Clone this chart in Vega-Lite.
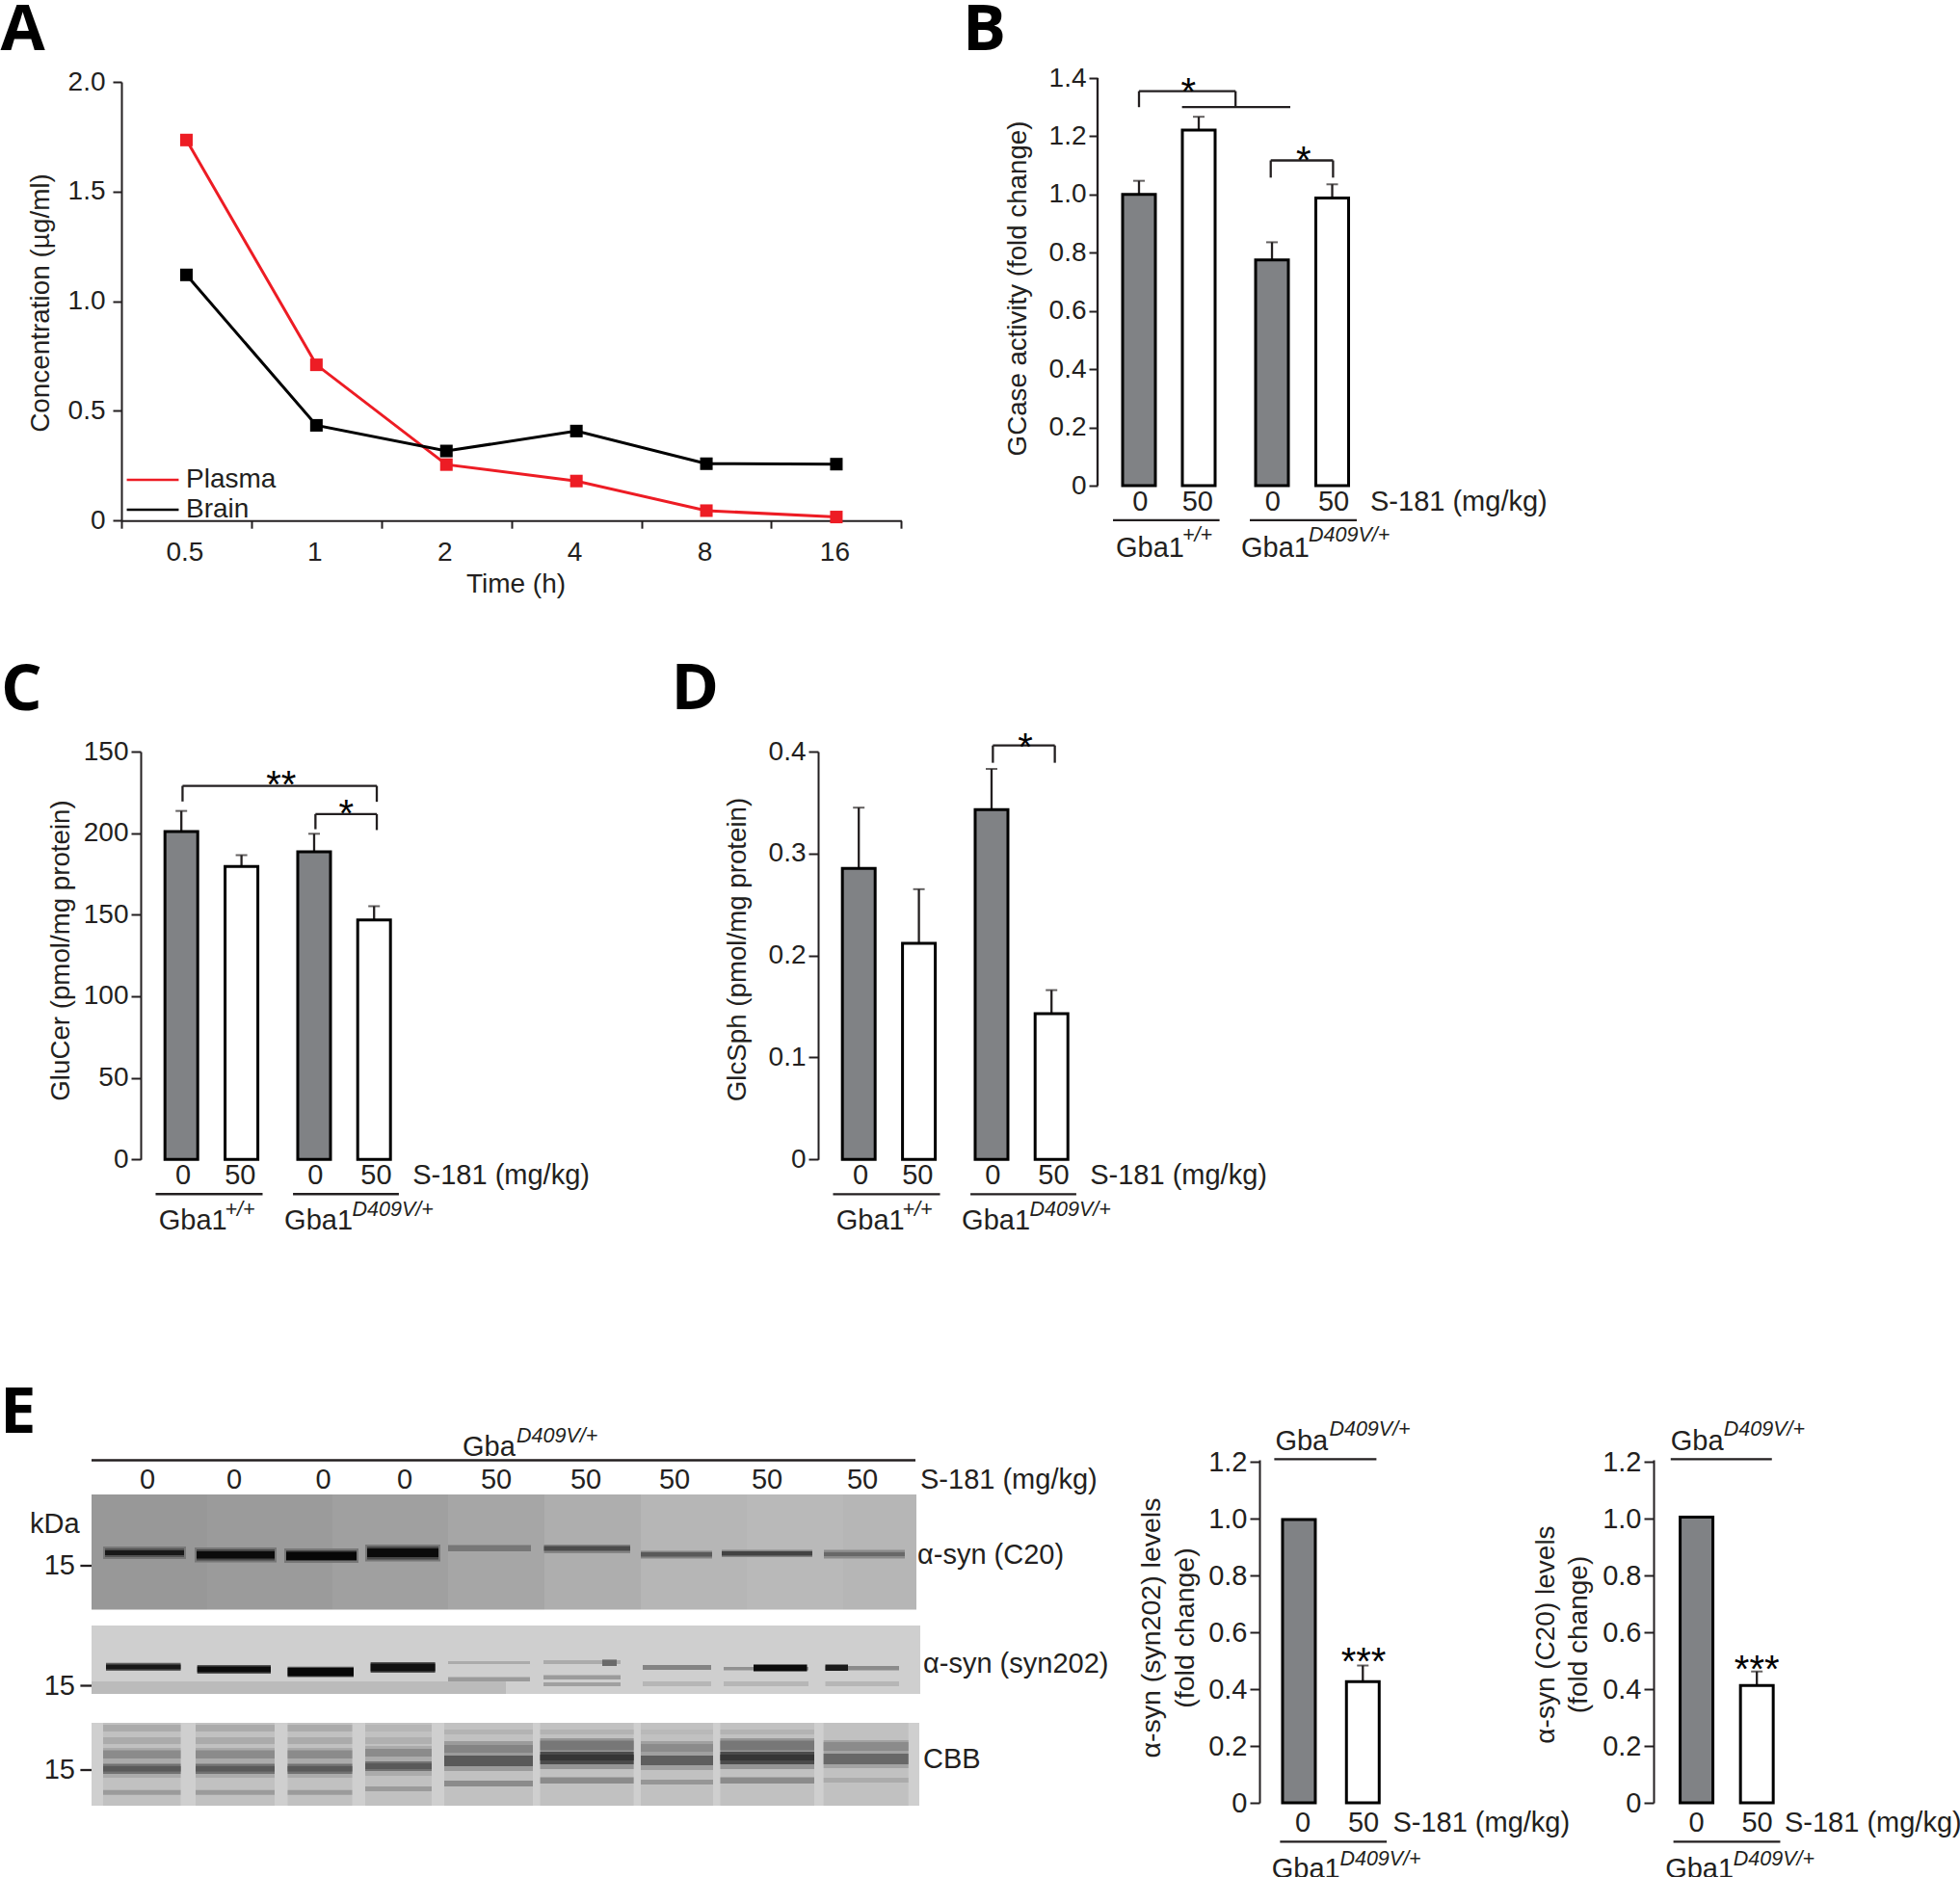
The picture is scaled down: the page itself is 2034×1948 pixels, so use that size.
{"$schema":"https://vega.github.io/schema/vega-lite/v6.json","padding":{"top":-3,"left":0,"right":4,"bottom":5},"background":"#ffffff","bounds":"flush","spacing":0,"config":{"view":{"stroke":null},"axis":{"grid":false,"labelFont":"Liberation Sans","titleFont":"Liberation Sans","labelFontSize":28,"titleFontSize":27.7,"titleFontWeight":"normal","labelColor":"#231f20","titleColor":"#231f20","domainColor":"#231f20","tickColor":"#231f20","domainWidth":2,"tickWidth":2,"labelPadding":3,"tickSize":9,"labelOverlap":false,"labelFlush":false},"text":{"font":"Liberation Sans","fontSize":29,"fill":"#231f20"},"title":{"font":"Open Sans","fontWeight":"bold","fontSize":67,"color":"#000000","anchor":"start","frame":"group","align":"left","baseline":"middle","offset":0},"rule":{"stroke":"#231f20","strokeWidth":2.3}},
"vconcat":[
{"hconcat":[
{"width":30.6,"height":1,"data":{"values":[{"a":1}]},"mark":{"type":"point","opacity":0},"encoding":{}},
{"vconcat":[
{"width":10,"height":3.7,"data":{"values":[{"a":1}]},"mark":{"type":"point","opacity":0},"encoding":{}},
{"width":809.4,"height":455.2,"title":{"text":"A","dx":-125.6,"dy":-1.2},
"data":{"values":[{"time":"0.5","series":"Plasma","concentration":1.735},{"time":"1","series":"Plasma","concentration":0.71},{"time":"2","series":"Plasma","concentration":0.255},{"time":"4","series":"Plasma","concentration":0.18},{"time":"8","series":"Plasma","concentration":0.045},{"time":"16","series":"Plasma","concentration":0.016},{"time":"0.5","series":"Brain","concentration":1.12},{"time":"1","series":"Brain","concentration":0.434},{"time":"2","series":"Brain","concentration":0.317},{"time":"4","series":"Brain","concentration":0.408},{"time":"8","series":"Brain","concentration":0.259},{"time":"16","series":"Brain","concentration":0.257}]},
"encoding":{"x":{"field":"time","type":"ordinal","sort":null,"scale":{"paddingInner":0,"paddingOuter":0},"axis":{"title":"Time (h)","labelAngle":0,"tickBand":"extent","labelPadding":11,"labelOffset":-2,"titlePadding":5.5,"tickSize":8,"titleFontSize":28,"titleX":409}},"y":{"field":"concentration","type":"quantitative","scale":{"domain":[0,2],"nice":false},"axis":{"title":"Concentration (µg/ml)","values":[0,0.5,1,1.5,2],"labelExpr":"datum.value==0?'0':format(datum.value,'.1f')","titleX":-69.5,"titleY":229,"titleFontSize":27.9,"labelPadding":8}},"color":{"field":"series","type":"nominal","scale":{"domain":["Plasma","Brain"],"range":["#ed1c24","#000000"]}}},
"layer":[{"mark":{"type":"line","strokeWidth":3},"encoding":{"color":{"field":"series","type":"nominal","legend":{"title":null,"orient":"none","legendX":35,"legendY":404,"symbolType":"stroke","symbolSize":2900,"symbolStrokeWidth":2.5,"labelFont":"Liberation Sans","labelFontSize":28,"labelColor":"#231f20","labelOffset":6,"rowPadding":3,"padding":0,"clipHeight":26}}}},{"mark":{"type":"square","size":170,"opacity":1},"encoding":{"color":{"field":"series","type":"nominal","legend":null}}}]}
],"spacing":0,"bounds":"flush"},
{"width":1012.4,"height":1,"data":{"values":[{"a":1}]},"mark":{"type":"point","opacity":0},"encoding":{}},
{"width":300,"height":461.5,"title":{"text":"B","dx":-140,"dy":2.8},
"encoding":{"x":{"field":"x","type":"quantitative","axis":null,"scale":{"domain":[-0.6935,4.145],"nice":false,"zero":false,"padding":0}},"y":{"field":"y","type":"quantitative","stack":null,"scale":{"domain":[-0.1274,1.4],"nice":false,"zero":false},"axis":{"title":"GCase activity (fold change)","domain":false,"values":[0,0.2,0.4,0.6,0.8,1,1.2,1.4],"labelExpr":"datum.value==0?'0':format(datum.value,'.1f')","titleX":-69,"titleY":218}}},
"layer":[
{"data":{"values":[{"x":0,"y":1.0,"upper":1.047,"dose":"0","genotype":"Gba1+/+"},{"x":1,"y":1.221,"upper":1.267,"dose":"50","genotype":"Gba1+/+"},{"x":2.226,"y":0.775,"upper":0.836,"dose":"0","genotype":"Gba1D409V/+"},{"x":3.234,"y":0.988,"upper":1.035,"dose":"50","genotype":"Gba1D409V/+"}]},"layer":[{"mark":{"type":"rule"},"encoding":{"y2":{"field":"upper"}}},{"mark":{"type":"tick","orient":"horizontal","size":12,"thickness":2,"color":"#231f20"},"encoding":{"y":{"field":"upper","type":"quantitative"}}},{"mark":{"type":"bar","orient":"vertical","size":34,"stroke":"#000000","strokeWidth":3},"encoding":{"fill":{"field":"dose","type":"nominal","legend":null,"scale":{"domain":["0","50"],"range":["#808285","#ffffff"]}}}}]},
{"data":{"values":[{"x":-0.6935,"y":0,"y2":1.4},{"x":0,"y":1.3,"y2":1.355},{"x":1.616,"y":1.3,"y2":1.355},{"x":2.205,"y":1.058,"y2":1.117},{"x":3.248,"y":1.058,"y2":1.117}]},"mark":{"type":"rule"},"encoding":{"y2":{"field":"y2"}}},
{"data":{"values":[{"x":0,"x2":1.616,"y":1.355},{"x":0.72,"x2":2.532,"y":1.3},{"x":2.205,"x2":3.248,"y":1.117},{"x":-0.435,"x2":1.348,"y":-0.119},{"x":1.855,"x2":3.645,"y":-0.119}]},"mark":{"type":"rule"},"encoding":{"x2":{"field":"x2"}}},
{"data":{"values":[{"label":"0","x":0.02,"y":-0.056},{"label":"50","x":0.98,"y":-0.056},{"label":"0","x":2.24,"y":-0.056},{"label":"50","x":3.258,"y":-0.056}]},"mark":{"type":"text","align":"center","baseline":"middle"},"encoding":{"text":{"field":"label"}}},
{"data":{"values":[{"label":"S-181 (mg/kg)","x":3.871,"y":-0.056},{"label":"Gba1","x":-0.387,"y":-0.215},{"label":"Gba1","x":1.71,"y":-0.215}]},"mark":{"type":"text","align":"left","baseline":"middle"},"encoding":{"text":{"field":"label"}}},
{"data":{"values":[{"label":"+/+","x":0.726,"y":-0.172},{"label":"D409V/+","x":2.839,"y":-0.172}]},"mark":{"type":"text","align":"left","baseline":"middle","fontSize":21.5,"fontStyle":"italic"},"encoding":{"text":{"field":"label"}}},
{"data":{"values":[{"label":"*","x":0.826,"y":1.385},{"label":"*","x":2.753,"y":1.149}]},"mark":{"type":"text","align":"center","baseline":"middle","fontSize":40,"dy":11,"fill":"#000000"},"encoding":{"text":{"field":"label"}}}
]}
],"spacing":0,"bounds":"flush"},
{"width":10,"height":698.1,"data":{"values":[{"a":1}]},"mark":{"type":"point","opacity":0},"encoding":{}},
{"hconcat":[
{"width":50.5,"height":1,"data":{"values":[{"a":1}]},"mark":{"type":"point","opacity":0},"encoding":{}},
{"width":300,"height":423.2,"title":{"text":"C","dx":-145,"dy":-11.4},
"encoding":{"x":{"field":"x","type":"quantitative","axis":null,"scale":{"domain":[-0.676,4.131],"nice":false,"zero":false,"padding":0}},"y":{"field":"y","type":"quantitative","stack":null,"scale":{"domain":[0,250],"nice":false,"zero":false},"axis":{"title":"GluCer (pmol/mg protein)","values":[0,50,100,150,200,250],"labelExpr":"datum.value==250?'150':datum.label","titleX":-69,"titleY":206,"tickSize":10}}},
"layer":[
{"data":{"values":[{"x":0,"y":201,"upper":213.6,"dose":"0","genotype":"Gba1+/+"},{"x":1,"y":179.5,"upper":186.5,"dose":"50","genotype":"Gba1+/+"},{"x":2.208,"y":188.6,"upper":199.6,"dose":"0","genotype":"Gba1D409V/+"},{"x":3.205,"y":146.8,"upper":155.2,"dose":"50","genotype":"Gba1D409V/+"}]},"layer":[{"mark":{"type":"rule"},"encoding":{"y2":{"field":"upper"}}},{"mark":{"type":"tick","orient":"horizontal","size":12,"thickness":2,"color":"#231f20"},"encoding":{"y":{"field":"upper","type":"quantitative"}}},{"mark":{"type":"bar","orient":"vertical","size":34,"stroke":"#000000","strokeWidth":3},"encoding":{"fill":{"field":"dose","type":"nominal","legend":null,"scale":{"domain":["0","50"],"range":["#808285","#ffffff"]}}}}]},
{"data":{"values":[{"x":0.02,"y":219.4,"y2":229},{"x":3.25,"y":219.2,"y2":229},{"x":2.23,"y":202.4,"y2":211.7},{"x":3.25,"y":201.9,"y2":211.7}]},"mark":{"type":"rule"},"encoding":{"y2":{"field":"y2"}}},
{"data":{"values":[{"x":0.02,"x2":3.25,"y":229},{"x":2.23,"x2":3.25,"y":211.7},{"x":-0.428,"x2":1.351,"y":-21.3},{"x":1.857,"x2":3.617,"y":-21.3}]},"mark":{"type":"rule"},"encoding":{"x2":{"field":"x2"}}},
{"data":{"values":[{"label":"0","x":0.03,"y":-10},{"label":"50","x":0.98,"y":-10},{"label":"0","x":2.23,"y":-10},{"label":"50","x":3.24,"y":-10}]},"mark":{"type":"text","align":"center","baseline":"middle"},"encoding":{"text":{"field":"label"}}},
{"data":{"values":[{"label":"S-181 (mg/kg)","x":3.846,"y":-10},{"label":"Gba1","x":-0.375,"y":-37.5},{"label":"Gba1","x":1.713,"y":-37.5}]},"mark":{"type":"text","align":"left","baseline":"middle"},"encoding":{"text":{"field":"label"}}},
{"data":{"values":[{"label":"+/+","x":0.726,"y":-31},{"label":"D409V/+","x":2.841,"y":-31}]},"mark":{"type":"text","align":"left","baseline":"middle","fontSize":21.5,"fontStyle":"italic"},"encoding":{"text":{"field":"label"}}},
{"data":{"values":[{"label":"**","x":1.66,"y":235},{"label":"*","x":2.74,"y":217.6}]},"mark":{"type":"text","align":"center","baseline":"middle","fontSize":40,"dy":11,"fill":"#000000"},"encoding":{"text":{"field":"label"}}}
]},
{"width":403,"height":1,"data":{"values":[{"a":1}]},"mark":{"type":"point","opacity":0},"encoding":{}},
{"width":300,"height":423.2,"title":{"text":"D","dx":-152.5,"dy":-2.4},
"encoding":{"x":{"field":"x","type":"quantitative","axis":null,"scale":{"domain":[-0.676,4.131],"nice":false,"zero":false,"padding":0}},"y":{"field":"y","type":"quantitative","stack":null,"scale":{"domain":[0,0.4],"nice":false,"zero":false},"axis":{"title":"GlcSph (pmol/mg protein)","values":[0,0.1,0.2,0.3,0.4],"labelExpr":"datum.value==0?'0':format(datum.value,'.1f')","titleX":-70,"titleY":205,"tickSize":10}}},
"layer":[
{"data":{"values":[{"x":0,"y":0.2855,"upper":0.345,"dose":"0","genotype":"Gba1+/+"},{"x":1,"y":0.212,"upper":0.265,"dose":"50","genotype":"Gba1+/+"},{"x":2.208,"y":0.343,"upper":0.383,"dose":"0","genotype":"Gba1D409V/+"},{"x":3.205,"y":0.143,"upper":0.166,"dose":"50","genotype":"Gba1D409V/+"}]},"layer":[{"mark":{"type":"rule"},"encoding":{"y2":{"field":"upper"}}},{"mark":{"type":"tick","orient":"horizontal","size":12,"thickness":2,"color":"#231f20"},"encoding":{"y":{"field":"upper","type":"quantitative"}}},{"mark":{"type":"bar","orient":"vertical","size":34,"stroke":"#000000","strokeWidth":3},"encoding":{"fill":{"field":"dose","type":"nominal","legend":null,"scale":{"domain":["0","50"],"range":["#808285","#ffffff"]}}}}]},
{"data":{"values":[{"x":2.23,"y":0.389,"y2":0.406},{"x":3.26,"y":0.389,"y2":0.406}]},"mark":{"type":"rule"},"encoding":{"y2":{"field":"y2"}}},
{"data":{"values":[{"x":2.23,"x2":3.26,"y":0.406},{"x":-0.428,"x2":1.351,"y":-0.0341},{"x":1.857,"x2":3.617,"y":-0.0341}]},"mark":{"type":"rule"},"encoding":{"x2":{"field":"x2"}}},
{"data":{"values":[{"label":"0","x":0.03,"y":-0.016},{"label":"50","x":0.98,"y":-0.016},{"label":"0","x":2.23,"y":-0.016},{"label":"50","x":3.24,"y":-0.016}]},"mark":{"type":"text","align":"center","baseline":"middle"},"encoding":{"text":{"field":"label"}}},
{"data":{"values":[{"label":"S-181 (mg/kg)","x":3.846,"y":-0.016},{"label":"Gba1","x":-0.375,"y":-0.06},{"label":"Gba1","x":1.713,"y":-0.06}]},"mark":{"type":"text","align":"left","baseline":"middle"},"encoding":{"text":{"field":"label"}}},
{"data":{"values":[{"label":"+/+","x":0.726,"y":-0.0496},{"label":"D409V/+","x":2.841,"y":-0.0496}]},"mark":{"type":"text","align":"left","baseline":"middle","fontSize":21.5,"fontStyle":"italic"},"encoding":{"text":{"field":"label"}}},
{"data":{"values":[{"label":"*","x":2.77,"y":0.4135}]},"mark":{"type":"text","align":"center","baseline":"middle","fontSize":40,"dy":11,"fill":"#000000"},"encoding":{"text":{"field":"label"}}}
]}
],"spacing":0,"bounds":"flush"},
{"width":10,"height":734.9,"data":{"values":[{"a":1}]},"mark":{"type":"point","opacity":0},"encoding":{}},
{"hconcat":[
{"width":860,"height":345.5,"title":{"text":"E","dx":-95,"dy":25},
"encoding":{"x":{"field":"x","type":"quantitative","axis":null,"scale":{"domain":[0,86],"nice":false,"zero":false}},"y":{"field":"y","type":"quantitative","axis":null,"scale":{"domain":[34.55,0],"nice":false,"zero":false}}},
"layer":[
{"data":{"values":[
{"x":0,"x2":12,"y":3.6,"y2":15.56,"density":0.37},{"x":12,"x2":25,"y":3.6,"y2":15.56,"density":0.36},{"x":25,"x2":37,"y":3.6,"y2":15.56,"density":0.34},{"x":37,"x2":47,"y":3.6,"y2":15.56,"density":0.32},{"x":47,"x2":57,"y":3.6,"y2":15.56,"density":0.29},{"x":57,"x2":68,"y":3.6,"y2":15.56,"density":0.26},{"x":68,"x2":78,"y":3.6,"y2":15.56,"density":0.25},{"x":78,"x2":85.6,"y":3.6,"y2":15.56,"density":0.26},
{"x":1.2,"x2":9.8,"y":9,"y2":10.3,"density":0.5},{"x":1.4,"x2":9.6,"y":9.2,"y2":10.1,"density":0.65},{"x":1.4,"x2":9.6,"y":9.4,"y2":9.9,"density":0.92},
{"x":10.7,"x2":19.2,"y":9.1,"y2":10.65,"density":0.5},{"x":10.9,"x2":19,"y":9.3,"y2":10.45,"density":0.7},{"x":10.9,"x2":19,"y":9.5,"y2":10.25,"density":0.97},
{"x":20,"x2":27.7,"y":9.2,"y2":10.7,"density":0.5},{"x":20.2,"x2":27.5,"y":9.4,"y2":10.5,"density":0.7},{"x":20.2,"x2":27.5,"y":9.55,"y2":10.4,"density":0.98},
{"x":28.4,"x2":36.2,"y":8.8,"y2":10.55,"density":0.5},{"x":28.6,"x2":36,"y":9.0,"y2":10.35,"density":0.7},{"x":28.6,"x2":36,"y":9.2,"y2":10.1,"density":0.97},
{"x":37,"x2":45.6,"y":8.86,"y2":9.5,"density":0.5},
{"x":46.95,"x2":55.9,"y":8.8,"y2":9.7,"density":0.45},{"x":46.95,"x2":55.9,"y":8.95,"y2":9.45,"density":0.68},
{"x":57,"x2":64.4,"y":9.46,"y2":10.25,"density":0.45},{"x":57,"x2":64.4,"y":9.6,"y2":10.05,"density":0.62},
{"x":65.4,"x2":74.8,"y":9.36,"y2":10.1,"density":0.45},{"x":65.4,"x2":74.8,"y":9.5,"y2":9.95,"density":0.72},
{"x":76,"x2":84.4,"y":9.36,"y2":10.25,"density":0.42},{"x":76,"x2":84.4,"y":9.6,"y2":10,"density":0.56},
{"x":0,"x2":86,"y":17.2,"y2":24.3,"density":0.17},{"x":0,"x2":43,"y":23,"y2":24.3,"density":0.24},
{"x":1.5,"x2":9.25,"y":21.07,"y2":21.9,"density":0.6},{"x":1.5,"x2":9.25,"y":21.25,"y2":21.75,"density":0.92},
{"x":10.97,"x2":18.6,"y":21.3,"y2":22.2,"density":0.65},{"x":10.97,"x2":18.6,"y":21.45,"y2":22.05,"density":0.97},
{"x":20.35,"x2":27.2,"y":21.47,"y2":22.56,"density":0.65},{"x":20.35,"x2":27.2,"y":21.6,"y2":22.45,"density":0.98},
{"x":28.96,"x2":35.66,"y":21,"y2":22.1,"density":0.65},{"x":28.96,"x2":35.66,"y":21.15,"y2":21.95,"density":0.95},
{"x":37,"x2":45.5,"y":20.9,"y2":21.2,"density":0.3},{"x":37,"x2":45.5,"y":22.55,"y2":23,"density":0.36},
{"x":46.9,"x2":54.9,"y":20.8,"y2":21.2,"density":0.3},{"x":46.9,"x2":54.9,"y":22.35,"y2":22.8,"density":0.36},{"x":46.9,"x2":54.9,"y":23.1,"y2":23.5,"density":0.34},{"x":53,"x2":54.5,"y":20.74,"y2":21.4,"density":0.55},
{"x":57.2,"x2":64.3,"y":21.3,"y2":21.8,"density":0.45},{"x":57.2,"x2":64.3,"y":23,"y2":23.5,"density":0.26},
{"x":65.6,"x2":74.4,"y":21.5,"y2":21.85,"density":0.4},{"x":68.7,"x2":74.25,"y":21.25,"y2":21.95,"density":0.97},{"x":65.6,"x2":74.4,"y":23,"y2":23.5,"density":0.26},
{"x":76.15,"x2":83.8,"y":21.4,"y2":21.85,"density":0.42},{"x":76.15,"x2":78.5,"y":21.25,"y2":21.9,"density":0.9},{"x":76.15,"x2":83.8,"y":23,"y2":23.5,"density":0.26},
{"x":0,"x2":85.9,"y":27.3,"y2":35.9,"density":0.17},
{"x":1.2,"x2":9.25,"y":27.3,"y2":35.9,"density":0.22},{"x":10.8,"x2":19,"y":27.3,"y2":35.9,"density":0.22},{"x":20.35,"x2":27.05,"y":27.3,"y2":35.9,"density":0.22},{"x":28.4,"x2":35.3,"y":27.3,"y2":35.9,"density":0.22},{"x":36.6,"x2":45.8,"y":27.3,"y2":35.9,"density":0.22},{"x":46.56,"x2":56.26,"y":27.3,"y2":35.9,"density":0.22},{"x":57,"x2":64.5,"y":27.3,"y2":35.9,"density":0.22},{"x":65.25,"x2":75,"y":27.3,"y2":35.9,"density":0.22},{"x":75.97,"x2":84.77,"y":27.3,"y2":35.9,"density":0.22},
{"x":1.2,"x2":9.25,"y":29.9,"y2":33,"density":0.3},{"x":10.8,"x2":19,"y":29.9,"y2":33,"density":0.3},{"x":20.35,"x2":27.05,"y":29.9,"y2":33,"density":0.3},{"x":28.4,"x2":35.3,"y":29.7,"y2":32.8,"density":0.3},{"x":36.6,"x2":45.8,"y":29.2,"y2":32.3,"density":0.36},{"x":46.56,"x2":56.26,"y":28.9,"y2":32.1,"density":0.38},{"x":57,"x2":64.5,"y":29.2,"y2":32.2,"density":0.34},{"x":65.25,"x2":75,"y":28.9,"y2":32.1,"density":0.38},{"x":75.97,"x2":84.77,"y":29.1,"y2":32,"density":0.33},
{"x":1.2,"x2":9.25,"y":27.5,"y2":28.2,"density":0.3},{"x":1.2,"x2":9.25,"y":28.8,"y2":29.5,"density":0.3},{"x":1.2,"x2":9.25,"y":30.15,"y2":31,"density":0.42},{"x":1.2,"x2":9.25,"y":31.54,"y2":32.6,"density":0.52},{"x":1.2,"x2":9.25,"y":31.8,"y2":32.35,"density":0.62},{"x":1.2,"x2":9.25,"y":34.27,"y2":34.77,"density":0.36},
{"x":10.8,"x2":19,"y":27.5,"y2":28.2,"density":0.3},{"x":10.8,"x2":19,"y":28.8,"y2":29.5,"density":0.3},{"x":10.8,"x2":19,"y":30.15,"y2":31,"density":0.42},{"x":10.8,"x2":19,"y":31.54,"y2":32.6,"density":0.52},{"x":10.8,"x2":19,"y":31.8,"y2":32.35,"density":0.62},{"x":10.8,"x2":19,"y":34.27,"y2":34.77,"density":0.36},
{"x":20.35,"x2":27.05,"y":27.5,"y2":28.2,"density":0.3},{"x":20.35,"x2":27.05,"y":28.8,"y2":29.5,"density":0.3},{"x":20.35,"x2":27.05,"y":30.15,"y2":31,"density":0.42},{"x":20.35,"x2":27.05,"y":31.54,"y2":32.6,"density":0.52},{"x":20.35,"x2":27.05,"y":31.8,"y2":32.35,"density":0.62},{"x":20.35,"x2":27.05,"y":34.27,"y2":34.77,"density":0.36},
{"x":28.4,"x2":35.3,"y":27.5,"y2":28.2,"density":0.26},{"x":28.4,"x2":35.3,"y":28.8,"y2":29.5,"density":0.28},{"x":28.4,"x2":35.3,"y":30,"y2":30.8,"density":0.42},{"x":28.4,"x2":35.3,"y":31.3,"y2":32.3,"density":0.52},{"x":28.4,"x2":35.3,"y":31.5,"y2":32.1,"density":0.62},{"x":28.4,"x2":35.3,"y":33.9,"y2":34.4,"density":0.36},
{"x":36.6,"x2":45.8,"y":28,"y2":28.5,"density":0.27},{"x":36.6,"x2":45.8,"y":29.6,"y2":30.4,"density":0.45},{"x":36.6,"x2":45.8,"y":30.7,"y2":31.8,"density":0.62},{"x":36.6,"x2":45.8,"y":33.3,"y2":33.9,"density":0.42},
{"x":46.56,"x2":56.26,"y":28,"y2":28.5,"density":0.27},{"x":46.56,"x2":56.26,"y":29.16,"y2":30.15,"density":0.5},{"x":46.56,"x2":56.26,"y":30.3,"y2":31.6,"density":0.68},{"x":46.56,"x2":56.26,"y":30.6,"y2":31.2,"density":0.78},{"x":46.56,"x2":56.26,"y":32.95,"y2":33.6,"density":0.42},
{"x":57,"x2":64.5,"y":28,"y2":28.5,"density":0.25},{"x":57,"x2":64.5,"y":29.5,"y2":30.3,"density":0.42},{"x":57,"x2":64.5,"y":30.7,"y2":31.7,"density":0.6},{"x":57,"x2":64.5,"y":33.2,"y2":33.7,"density":0.38},
{"x":65.25,"x2":75,"y":28,"y2":28.5,"density":0.27},{"x":65.25,"x2":75,"y":29.16,"y2":30.15,"density":0.5},{"x":65.25,"x2":75,"y":30.3,"y2":31.6,"density":0.68},{"x":65.25,"x2":75,"y":30.6,"y2":31.2,"density":0.78},{"x":65.25,"x2":75,"y":32.95,"y2":33.6,"density":0.42},
{"x":75.97,"x2":84.77,"y":29.3,"y2":30.2,"density":0.42},{"x":75.97,"x2":84.77,"y":30.5,"y2":31.6,"density":0.56},{"x":75.97,"x2":84.77,"y":33,"y2":33.5,"density":0.3}
]},"mark":{"type":"rect"},"encoding":{"x2":{"field":"x2"},"y2":{"field":"y2"},"fill":{"field":"density","type":"quantitative","legend":null,"scale":{"domain":[0,1],"range":["#ffffff","#000000"]}}}},
{"data":{"values":[{"x":0,"x2":85.5,"y":0.05},{"x":-1.16,"x2":0,"y":11},{"x":-1.16,"x2":0,"y":23.45},{"x":-1.16,"x2":0,"y":32.2}]},"mark":{"type":"rule"},"encoding":{"x2":{"field":"x2"}}},
{"data":{"values":[{"label":"0","x":5.8,"y":2.1},{"label":"0","x":14.8,"y":2.1},{"label":"0","x":24.06,"y":2.1},{"label":"0","x":32.5,"y":2.1},{"label":"50","x":42,"y":2.1},{"label":"50","x":51.3,"y":2.1},{"label":"50","x":60.5,"y":2.1},{"label":"50","x":70.1,"y":2.1},{"label":"50","x":80,"y":2.1}]},"mark":{"type":"text","align":"center","baseline":"middle"},"encoding":{"text":{"field":"label"}}},
{"data":{"values":[{"label":"Gba","x":38.5,"y":-1.3},{"label":"S-181 (mg/kg)","x":86,"y":2.1},{"label":"kDa","x":-6.4,"y":6.7},{"label":"α-syn (C20)","x":85.7,"y":9.85},{"label":"α-syn (syn202)","x":86.3,"y":21.2},{"label":"CBB","x":86.3,"y":31.1}]},"mark":{"type":"text","align":"left","baseline":"middle"},"encoding":{"text":{"field":"label"}}},
{"data":{"values":[{"label":"15","x":-1.7,"y":11},{"label":"15","x":-1.7,"y":23.45},{"label":"15","x":-1.7,"y":32.2}]},"mark":{"type":"text","align":"right","baseline":"middle"},"encoding":{"text":{"field":"label"}}},
{"data":{"values":[{"label":"D409V/+","x":44.1,"y":-2.4}]},"mark":{"type":"text","align":"left","baseline":"middle","fontSize":21.5,"fontStyle":"italic"},"encoding":{"text":{"field":"label"}}}
]},
{"width":351.6,"height":1,"data":{"values":[{"a":1}]},"mark":{"type":"point","opacity":0},"encoding":{}},
{"width":300,"height":356,
"encoding":{"x":{"field":"x","type":"quantitative","axis":null,"scale":{"domain":[-0.618,3.907],"nice":false,"zero":false,"padding":0}},"y":{"field":"y","type":"quantitative","stack":null,"scale":{"domain":[0,1.2068],"nice":false,"zero":false},"axis":{"title":["α-syn (syn202) levels","(fold change)"],"titleFontSize":28.5,"titleLineHeight":35,"values":[0,0.2,0.4,0.6,0.8,1,1.2],"labelExpr":"datum.value==0?'0':format(datum.value,'.1f')","titleX":-98,"titleY":174,"tickSize":10,"labelFontSize":29}}},
"layer":[
{"data":{"values":[{"x":0,"y":0.997,"upper":0.997,"dose":"0","genotype":"GbaD409V/+"},{"x":1,"y":0.426,"upper":0.483,"dose":"50","genotype":"GbaD409V/+"}]},"layer":[{"transform":[{"filter":"datum.upper>datum.y"}],"mark":{"type":"rule"},"encoding":{"y2":{"field":"upper"}}},{"transform":[{"filter":"datum.upper>datum.y"}],"mark":{"type":"tick","orient":"horizontal","size":12,"thickness":2,"color":"#231f20"},"encoding":{"y":{"field":"upper","type":"quantitative"}}},{"mark":{"type":"bar","orient":"vertical","size":34,"stroke":"#000000","strokeWidth":3},"encoding":{"fill":{"field":"dose","type":"nominal","legend":null,"scale":{"domain":["0","50"],"range":["#808285","#ffffff"]}}}}]},
{"data":{"values":[{"x":-0.386,"x2":1.213,"y":1.209},{"x":-0.296,"x2":1.374,"y":-0.137}]},"mark":{"type":"rule"},"encoding":{"x2":{"field":"x2"}}},
{"data":{"values":[{"label":"0","x":0.06,"y":-0.071},{"label":"50","x":1.012,"y":-0.071}]},"mark":{"type":"text","align":"center","baseline":"middle"},"encoding":{"text":{"field":"label"}}},
{"data":{"values":[{"label":"S-181 (mg/kg)","x":1.47,"y":-0.071},{"label":"Gba1","x":-0.425,"y":-0.234},{"label":"Gba","x":-0.371,"y":1.271}]},"mark":{"type":"text","align":"left","baseline":"middle"},"encoding":{"text":{"field":"label"}}},
{"data":{"values":[{"label":"D409V/+","x":0.64,"y":-0.199},{"label":"D409V/+","x":0.474,"y":1.312}]},"mark":{"type":"text","align":"left","baseline":"middle","fontSize":21.5,"fontStyle":"italic"},"encoding":{"text":{"field":"label"}}},
{"data":{"values":[{"label":"***","x":1.012,"y":0.529}]},"mark":{"type":"text","align":"center","baseline":"middle","fontSize":40,"dy":11,"fill":"#000000"},"encoding":{"text":{"field":"label"}}}
]},
{"width":108.6,"height":1,"data":{"values":[{"a":1}]},"mark":{"type":"point","opacity":0},"encoding":{}},
{"width":300,"height":356,
"encoding":{"x":{"field":"x","type":"quantitative","axis":null,"scale":{"domain":[-0.712,4.08],"nice":false,"zero":false,"padding":0}},"y":{"field":"y","type":"quantitative","stack":null,"scale":{"domain":[0,1.2068],"nice":false,"zero":false},"axis":{"title":["α-syn (C20) levels","(fold change)"],"titleFontSize":28,"titleLineHeight":34,"values":[0,0.2,0.4,0.6,0.8,1,1.2],"labelExpr":"datum.value==0?'0':format(datum.value,'.1f')","titleX":-97.4,"titleY":181,"tickSize":10,"labelFontSize":29}}},
"layer":[
{"data":{"values":[{"x":0,"y":1.005,"upper":1.005,"dose":"0","genotype":"GbaD409V/+"},{"x":1,"y":0.413,"upper":0.462,"dose":"50","genotype":"GbaD409V/+"}]},"layer":[{"transform":[{"filter":"datum.upper>datum.y"}],"mark":{"type":"rule"},"encoding":{"y2":{"field":"upper"}}},{"transform":[{"filter":"datum.upper>datum.y"}],"mark":{"type":"tick","orient":"horizontal","size":12,"thickness":2,"color":"#231f20"},"encoding":{"y":{"field":"upper","type":"quantitative"}}},{"mark":{"type":"bar","orient":"vertical","size":34,"stroke":"#000000","strokeWidth":3},"encoding":{"fill":{"field":"dose","type":"nominal","legend":null,"scale":{"domain":["0","50"],"range":["#808285","#ffffff"]}}}}]},
{"data":{"values":[{"x":-0.428,"x2":1.249,"y":1.209},{"x":-0.383,"x2":1.388,"y":-0.137}]},"mark":{"type":"rule"},"encoding":{"x2":{"field":"x2"}}},
{"data":{"values":[{"label":"0","x":0,"y":-0.071},{"label":"50","x":1.006,"y":-0.071}]},"mark":{"type":"text","align":"center","baseline":"middle"},"encoding":{"text":{"field":"label"}}},
{"data":{"values":[{"label":"S-181 (mg/kg)","x":1.46,"y":-0.071},{"label":"Gba1","x":-0.518,"y":-0.234},{"label":"Gba","x":-0.428,"y":1.271}]},"mark":{"type":"text","align":"left","baseline":"middle"},"encoding":{"text":{"field":"label"}}},
{"data":{"values":[{"label":"D409V/+","x":0.61,"y":-0.199},{"label":"D409V/+","x":0.45,"y":1.312}]},"mark":{"type":"text","align":"left","baseline":"middle","fontSize":21.5,"fontStyle":"italic"},"encoding":{"text":{"field":"label"}}},
{"data":{"values":[{"label":"***","x":1.0,"y":0.502}]},"mark":{"type":"text","align":"center","baseline":"middle","fontSize":40,"dy":11,"fill":"#000000"},"encoding":{"text":{"field":"label"}}}
]}
],"spacing":0,"bounds":"flush"}
]}
